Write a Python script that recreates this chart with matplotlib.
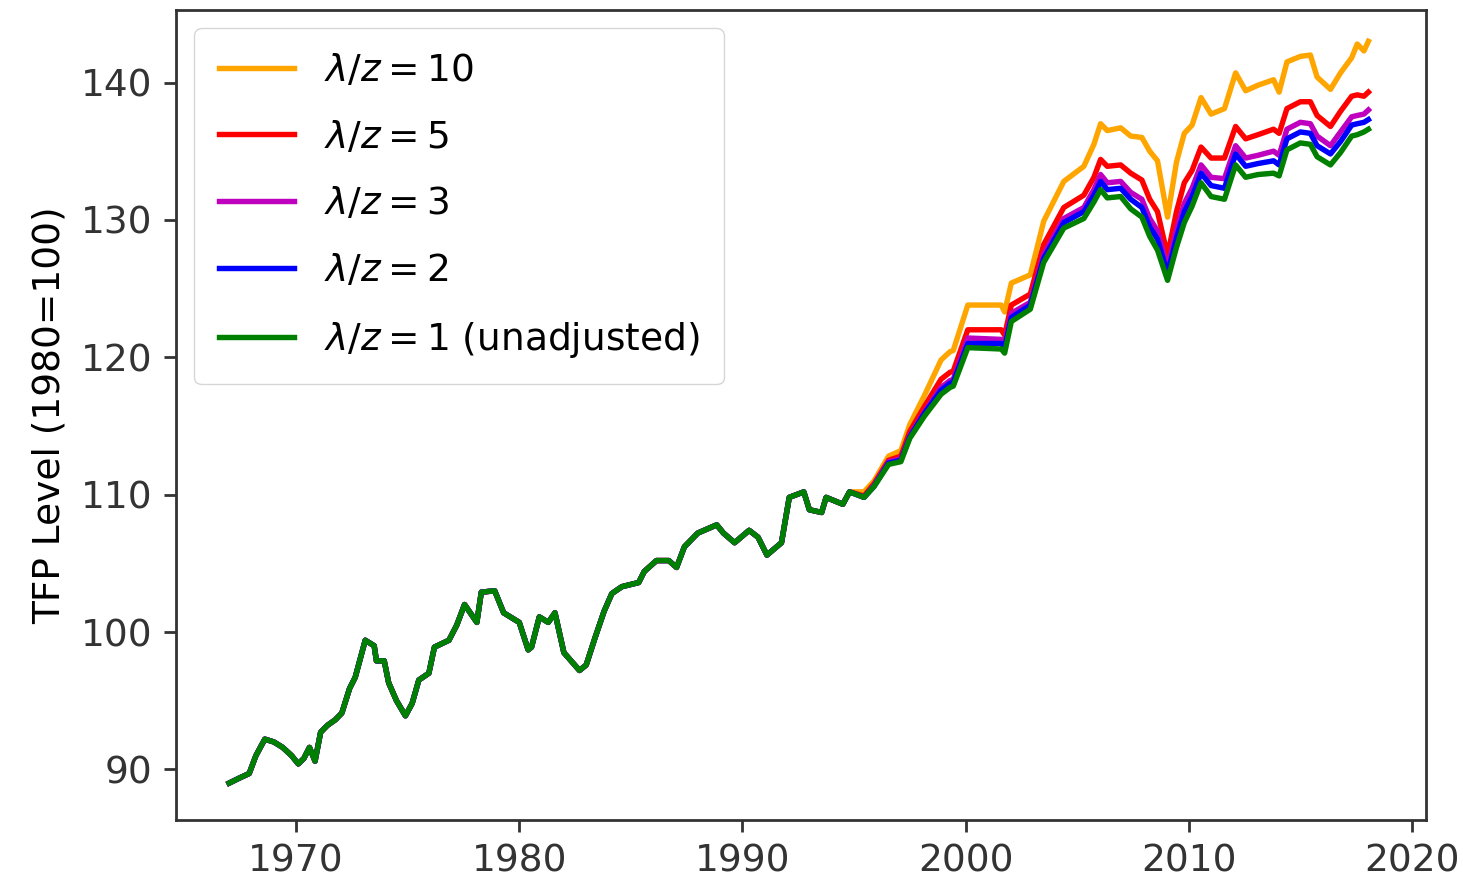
import matplotlib

matplotlib.use("Agg")
import matplotlib.pyplot as plt
import numpy as np

# common path (all adjustments identical before ~1995)
years_early = [1967.0, 1967.5, 1967.9, 1968.2, 1968.6, 1969.0, 1969.4, 1969.8, 1970.1, 1970.35,
               1970.6, 1970.85, 1971.1, 1971.4, 1971.75, 1972.05, 1972.4, 1972.65, 1973.1, 1973.5,
               1973.6, 1973.95, 1974.15, 1974.5, 1974.9, 1975.2, 1975.5, 1975.95, 1976.2, 1976.85,
               1977.2, 1977.55, 1978.1, 1978.3, 1978.9, 1979.3, 1980.0, 1980.4, 1980.55, 1980.9,
               1981.3, 1981.6, 1982.0, 1982.7, 1983.0, 1983.4, 1983.8, 1984.15, 1984.6, 1985.35,
               1985.6, 1986.15, 1986.7, 1987.05, 1987.4, 1988.0, 1988.85, 1989.15, 1989.65, 1990.3,
               1990.7, 1991.1, 1991.75, 1992.1, 1992.75, 1993.0, 1993.55, 1993.75, 1994.5, 1994.8]
tfp_early = [89.0, 89.4, 89.7, 91.0, 92.2, 92.0, 91.6, 91.0, 90.4, 90.8,
             91.6, 90.6, 92.7, 93.2, 93.6, 94.1, 95.9, 96.7, 99.4, 99.0,
             97.9, 97.9, 96.3, 95.0, 93.9, 94.8, 96.5, 97.0, 98.9, 99.4,
             100.5, 102.0, 100.7, 102.9, 103.0, 101.4, 100.7, 98.7, 98.9, 101.1,
             100.7, 101.4, 98.5, 97.2, 97.6, 99.6, 101.5, 102.8, 103.3, 103.6,
             104.4, 105.2, 105.2, 104.7, 106.2, 107.2, 107.8, 107.2, 106.5, 107.4,
             106.9, 105.6, 106.5, 109.8, 110.2, 108.9, 108.7, 109.8, 109.3, 110.2]

# after ~1995 the series split
years_late = [1995.45, 1995.9, 1996.55, 1997.1, 1997.5, 1998.15, 1998.9, 1999.3, 1999.45, 2000.1,
              2001.6, 2001.75, 2002.05, 2002.9, 2003.5, 2004.4, 2005.3, 2005.75, 2006.05, 2006.35,
              2006.95, 2007.4, 2007.9, 2008.25, 2008.6, 2009.05, 2009.45, 2009.8, 2010.15, 2010.55,
              2011.0, 2011.6, 2012.1, 2012.55, 2013.1, 2013.8, 2014.05, 2014.4, 2015.0, 2015.45,
              2015.75, 2016.35, 2016.8, 2017.3, 2017.55, 2017.85, 2018.05]
tfp_10 = [110.2, 111.0, 112.8, 113.2, 115.1, 117.2, 119.8, 120.4, 120.5, 123.8,
          123.8, 123.3, 125.4, 126.0, 129.9, 132.8, 133.9, 135.5, 137.0, 136.5,
          136.7, 136.1, 136.0, 135.0, 134.3, 130.2, 134.2, 136.3, 136.9, 138.9,
          137.7, 138.1, 140.7, 139.4, 139.8, 140.2, 139.3, 141.5, 141.9, 142.0,
          140.4, 139.5, 140.7, 141.8, 142.8, 142.3, 143.0]
tfp_5 = [109.9, 110.8, 112.5, 112.8, 114.6, 116.4, 118.4, 118.9, 119.0, 122.0,
         122.0, 121.6, 123.8, 124.6, 128.2, 130.9, 131.8, 133.1, 134.4, 133.9,
         134.0, 133.4, 132.9, 131.5, 130.6, 127.4, 130.6, 132.7, 133.6, 135.3,
         134.5, 134.5, 136.8, 135.9, 136.2, 136.6, 136.3, 138.1, 138.6, 138.6,
         137.6, 136.8, 137.9, 139.0, 139.1, 139.0, 139.3]
tfp_3 = [109.8, 110.7, 112.4, 112.6, 114.3, 116.0, 117.8, 118.3, 118.4, 121.4,
         121.3, 121.0, 123.2, 124.0, 127.5, 130.1, 130.9, 132.2, 133.3, 132.7,
         132.8, 132.0, 131.5, 130.1, 129.2, 126.5, 129.3, 131.2, 132.3, 134.0,
         133.1, 133.0, 135.4, 134.5, 134.7, 135.0, 134.7, 136.6, 137.1, 137.0,
         136.1, 135.4, 136.4, 137.5, 137.6, 137.7, 138.0]
tfp_2 = [109.8, 110.6, 112.3, 112.5, 114.2, 115.9, 117.6, 118.1, 118.2, 121.0,
         121.0, 120.7, 122.9, 123.8, 127.2, 129.8, 130.6, 131.8, 132.8, 132.2,
         132.3, 131.5, 130.9, 129.5, 128.6, 126.1, 128.7, 130.6, 131.7, 133.4,
         132.5, 132.3, 134.8, 133.9, 134.1, 134.3, 134.0, 135.9, 136.4, 136.3,
         135.4, 134.8, 135.7, 136.9, 137.0, 137.1, 137.3]
tfp_1 = [109.8, 110.6, 112.2, 112.4, 114.1, 115.7, 117.3, 117.8, 117.9, 120.7,
         120.6, 120.3, 122.6, 123.5, 126.9, 129.4, 130.1, 131.3, 132.2, 131.6,
         131.7, 130.8, 130.2, 128.8, 127.8, 125.6, 128.0, 129.8, 131.0, 132.7,
         131.7, 131.5, 134.0, 133.1, 133.3, 133.4, 133.2, 135.1, 135.6, 135.5,
         134.6, 134.0, 134.9, 136.1, 136.2, 136.4, 136.6]

labels = [r"$\lambda/z = 10$", r"$\lambda/z = 5$", r"$\lambda/z = 3$",
          r"$\lambda/z = 2$", r"$\lambda/z = 1$ (unadjusted)"]
colors = ["orange", "r", "m", "b", "g"]


def main():
    years = np.array(years_early + years_late)
    series = [tfp_10, tfp_5, tfp_3, tfp_2, tfp_1]

    fig, ax = plt.subplots(figsize=(14.63, 8.81), dpi=100)
    fig.subplots_adjust(left=0.12, right=0.975, top=0.989, bottom=0.069)

    for vals, col, lab in zip(series, colors, labels):
        ax.plot(years, np.array(tfp_early + vals), color=col, lw=3.9, label=lab)

    ax.set_ylabel("TFP Level (1980=100)", fontsize=27, labelpad=10)
    ax.set_xlim(1964.6, 2020.65)
    ax.set_ylim(86.3, 145.3)
    ax.set_xticks([1970, 1980, 1990, 2000, 2010, 2020])
    ax.set_yticks([90, 100, 110, 120, 130, 140])
    ax.tick_params(labelsize=27, length=8.5, width=2, pad=8, colors="#333333")
    for sp in ax.spines.values():
        sp.set_linewidth(2)
        sp.set_color("#333333")

    ax.legend(loc="upper left", fontsize=27, handlelength=2.0, labelspacing=0.82,
              borderpad=0.65, borderaxespad=0.5)

    fig.savefig("out.png", dpi=100)


if __name__ == "__main__":
    main()
